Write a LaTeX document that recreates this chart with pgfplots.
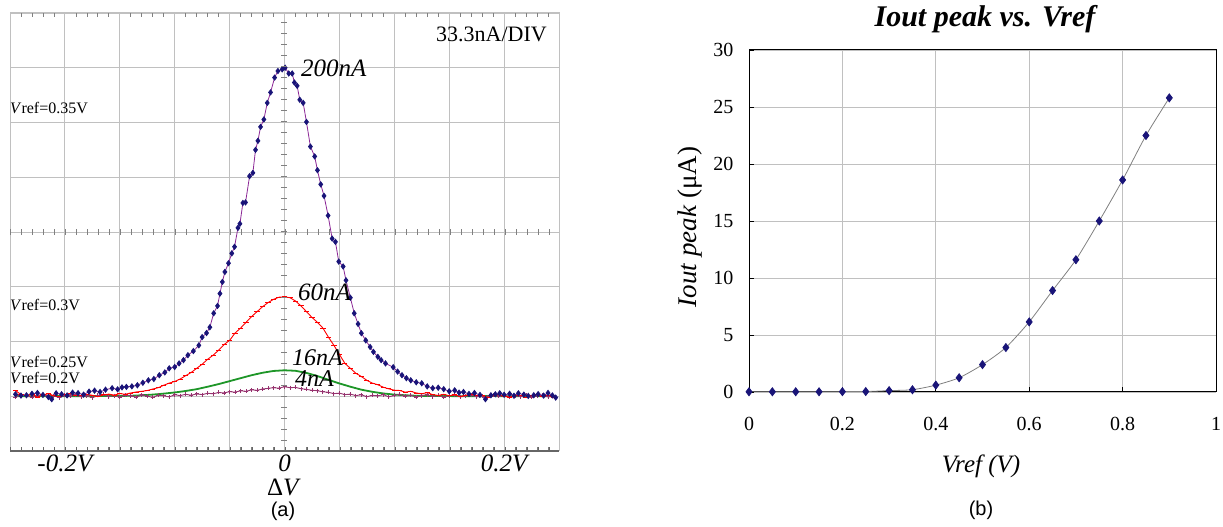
\documentclass[border=0pt]{standalone}
\usepackage{pgfplots}
\pgfplotsset{compat=1.18}
\usepackage{fontspec}
\setmainfont{Liberation Serif}
\newfontfamily\sansf{Liberation Sans}
\definecolor{navyb}{RGB}{25,20,120}
\definecolor{purpl}{RGB}{140,40,150}
\definecolor{plum}{RGB}{150,50,110}
\definecolor{grn}{RGB}{30,150,40}
\definecolor{gridg}{RGB}{192,192,192}
\newcommand{\fs}[1]{\fontsize{#1}{#1}\selectfont}
\begin{document}
\begin{tikzpicture}[x=1pt,y=1pt]
\useasboundingbox (0,0) rectangle (1223,527);
% ---------------- panel (a) ----------------
\begin{axis}[at={(284.5pt,130.75pt)}, anchor=origin, scale only axis,
  width=549pt, height=438pt,
  xmin=-0.25, xmax=0.25, ymin=-33.333, ymax=233.333,
  xtick={-0.25,-0.2,-0.15,-0.1,-0.05,0,0.05,0.1,0.15,0.2,0.25},
  xticklabels={,{-0.2V},,,,0,,,,{0.2V},},
  ytick={-33.333,0,33.333,66.667,100,133.333,166.667,200,233.333},
  yticklabels={},
  grid=major, major grid style={gridg, line width=0.9pt},
  minor x tick num=4, minor y tick num=4,
  tick style={gray, line width=0.7pt}, major tick length=0pt, minor tick length=4pt,
  axis line style={gridg, line width=1pt},
  xticklabel style={font=\fs{25}\itshape},
]
\addplot[grn, line width=1.8pt] coordinates {
(-0.245,0.1) (-0.23,0.0) (-0.21,0.1) (-0.19,0.0) (-0.17,0.1) (-0.15,0.15)
(-0.14,0.3) (-0.13,0.6) (-0.12,1.0) (-0.11,1.6) (-0.10,2.3) (-0.09,3.2)
(-0.08,4.3) (-0.07,5.8) (-0.06,7.4) (-0.05,9.2) (-0.04,11.0) (-0.03,12.8)
(-0.02,14.3) (-0.01,15.4) (0,15.8) (0.01,15.5) (0.02,14.2) (0.03,12.3)
(0.04,10.0) (0.05,7.8) (0.06,5.8) (0.07,4.0) (0.08,2.7) (0.09,1.7)
(0.10,1.0) (0.11,0.6) (0.12,0.3) (0.13,0.2) (0.15,0.1) (0.17,0.0)
(0.19,0.1) (0.21,0.0) (0.23,0.1) (0.245,0.0)};
\addplot[plum, line width=0.9pt, mark=+, mark size=2pt] coordinates {
(-0.245,-0.5) (-0.24,0.8) (-0.235,0.3) (-0.23,-0.6) (-0.225,0.5) (-0.22,1.0)
(-0.215,-0.2) (-0.21,0.4) (-0.205,-0.8) (-0.2,0.6) (-0.195,0.0) (-0.19,0.9)
(-0.185,-0.4) (-0.18,0.3) (-0.175,-0.9) (-0.17,0.5) (-0.165,1.1) (-0.16,-0.3)
(-0.155,0.4) (-0.15,-0.6) (-0.145,0.7) (-0.14,0.2) (-0.135,-0.5) (-0.13,0.8)
(-0.125,0.1) (-0.12,-0.7) (-0.115,0.6) (-0.11,0.3) (-0.105,-0.4) (-0.1,0.9)
(-0.095,0.4) (-0.09,1.2) (-0.085,0.6) (-0.08,1.4) (-0.075,1.0) (-0.07,1.8)
(-0.065,1.5) (-0.06,2.3) (-0.055,2.0) (-0.05,2.8) (-0.045,2.5) (-0.04,3.3)
(-0.035,3.0) (-0.03,3.9) (-0.025,3.6) (-0.02,4.4) (-0.015,4.8) (-0.01,5.2)
(-0.005,4.9) (0,5.8) (0.005,5.2) (0.01,5.4) (0.015,4.6) (0.02,4.2)
(0.025,3.6) (0.03,3.4) (0.035,2.7) (0.04,2.4) (0.045,1.6) (0.05,1.9)
(0.055,1.0) (0.06,1.3) (0.065,0.4) (0.07,0.9) (0.075,-0.3) (0.08,0.6)
(0.085,0.2) (0.09,1.0) (0.095,-0.4) (0.1,0.5) (0.105,1.2) (0.11,0.0)
(0.115,0.7) (0.12,-0.5) (0.125,0.4) (0.13,0.9) (0.135,-0.2) (0.14,0.5)
(0.145,-0.6) (0.15,0.3) (0.155,0.8) (0.16,-0.4) (0.165,0.2) (0.17,0.7)
(0.175,-0.3) (0.18,0.4) (0.185,-0.7) (0.19,0.5) (0.195,0.1) (0.2,0.8)
(0.205,-0.5) (0.21,0.3) (0.215,-0.2) (0.22,0.6) (0.225,-0.6) (0.23,0.2)
(0.235,0.7) (0.24,-0.4) (0.245,0.3)};
\addplot[red, line width=0.9pt, mark=-, mark size=2.6pt] coordinates {
(-0.245,3.5) (-0.24,1.0) (-0.235,0.2) (-0.23,1.2) (-0.225,-0.5) (-0.22,0.8)
(-0.215,1.5) (-0.21,0.3) (-0.205,-0.4) (-0.2,0.9) (-0.195,1.4) (-0.19,0.5)
(-0.185,0.2) (-0.18,1.1) (-0.175,0.6) (-0.17,-0.3) (-0.165,0.8) (-0.16,1.3)
(-0.155,0.7) (-0.15,1.6) (-0.145,1.2) (-0.14,2.0) (-0.135,2.6) (-0.13,3.0)
(-0.125,3.5) (-0.12,4.4) (-0.115,5.2) (-0.11,6.7) (-0.105,8.0) (-0.1,9.0)
(-0.095,10.5) (-0.09,12.5) (-0.085,14.5) (-0.08,17.0) (-0.075,19.5) (-0.07,22.5)
(-0.065,25.0) (-0.06,28.0) (-0.055,31.5) (-0.05,34.0) (-0.045,38.5) (-0.04,41.5)
(-0.035,45.0) (-0.03,48.5) (-0.025,51.5) (-0.02,54.5) (-0.015,57.0) (-0.01,59.0)
(-0.005,60.3) (0,60.5) (0.005,60.0) (0.01,58.0) (0.015,55.0) (0.02,51.5)
(0.025,48.0) (0.03,45.0) (0.035,41.5) (0.04,36.0) (0.045,31.0) (0.05,25.5)
(0.055,20.0) (0.06,17.0) (0.065,14.0) (0.07,12.0) (0.075,9.7) (0.08,8.0)
(0.085,7.0) (0.09,5.5) (0.095,4.5) (0.1,3.7) (0.105,3.5) (0.11,2.5)
(0.115,3.0) (0.12,2.0) (0.125,1.5) (0.13,2.2) (0.135,1.0) (0.14,0.5)
(0.145,1.2) (0.15,0.3) (0.155,0.8) (0.16,-0.2) (0.165,0.6) (0.17,1.0)
(0.175,0.2) (0.18,0.5) (0.185,-0.6) (0.19,0.4) (0.195,0.9) (0.2,0.1)
(0.205,-0.5) (0.21,0.6) (0.215,0.2) (0.22,-0.8) (0.225,0.4) (0.23,1.0)
(0.235,-0.3) (0.24,0.6) (0.245,-1.0)};
\addplot[purpl, line width=0.8pt, mark=diamond*, mark size=2.6pt,
  mark options={navyb, fill=navyb}] coordinates {
(-0.245,1.2) (-0.24,0.4) (-0.235,0.6) (-0.23,1.5) (-0.225,2.0) (-0.22,0.8)
(-0.215,-0.5) (-0.212,-1.8) (-0.208,1.8) (-0.203,1.2) (-0.198,0.5) (-0.193,2.2)
(-0.188,1.9) (-0.183,1.0) (-0.178,2.8) (-0.173,3.4) (-0.168,2.6) (-0.163,4.0)
(-0.157,4.9) (-0.152,4.2) (-0.148,5.4) (-0.144,5.7) (-0.139,6.0) (-0.134,6.7)
(-0.129,8.2) (-0.124,9.7) (-0.119,10.5) (-0.114,12.8) (-0.109,14.5) (-0.105,17.0)
(-0.100,17.8) (-0.096,20.0) (-0.092,22.0) (-0.088,25.0) (-0.083,27.5) (-0.078,31.0)
(-0.075,36.0) (-0.071,38.5) (-0.068,42.0) (-0.0645,50.5) (-0.061,55.0) (-0.0588,62.5)
(-0.0566,69.6) (-0.0543,75.7) (-0.051,81) (-0.048,87) (-0.0455,91) (-0.0424,102.5)
(-0.0406,105) (-0.0379,117.7) (-0.0355,118) (-0.0318,134) (-0.0288,136) (-0.0264,150)
(-0.0242,155.5) (-0.0218,164) (-0.0188,168.5) (-0.0157,178.6) (-0.0127,185) (-0.009,194)
(-0.006,198) (-0.0021,199) (0.0006,200) (0.0039,196.5) (0.007,196.5) (0.009,191)
(0.0115,189) (0.0139,180.5) (0.017,178.6) (0.020,167) (0.0236,152) (0.0275,146)
(0.030,137.6) (0.033,129) (0.036,122) (0.0397,110) (0.0434,96) (0.0464,94)
(0.0494,82) (0.0534,79) (0.056,70.6) (0.060,60) (0.0635,50.5) (0.067,44)
(0.070,38.4) (0.074,34) (0.078,30) (0.081,27) (0.085,24) (0.088,22)
(0.092,20) (0.099,17.7) (0.103,15) (0.107,12.8) (0.111,11) (0.115,9.7)
(0.12,8.5) (0.125,7.9) (0.13,6) (0.135,4.9) (0.14,5.2) (0.145,4.3)
(0.15,3.0) (0.155,3.6) (0.159,2.2) (0.163,2.6) (0.168,1.4) (0.173,2.0)
(0.178,0.8) (0.183,-1.8) (0.188,0.6) (0.192,1.2) (0.196,1.8) (0.2,0.9)
(0.205,1.5) (0.209,0.3) (0.213,1.8) (0.218,1.0) (0.222,0.2) (0.227,0.6)
(0.231,1.3) (0.236,0.4) (0.24,2.0) (0.244,0.5) (0.247,-0.8)};
\end{axis}
% centre cross ticks and heavy bottom edge of the screen
\foreach \i in {0,...,49} {\draw[gray, line width=0.6pt] ({10+11*\i},292) -- ({10+11*\i},298);}
\foreach \i in {0,...,39} {\draw[gray, line width=0.6pt] (281,{76+11*\i}) -- (287,{76+11*\i});}
\draw[line width=2.6pt, black!60] (10,76) -- (559,76);
\foreach \i in {0,...,49} {\draw[black!60, line width=0.8pt] ({10+11*\i},76) -- ({10+11*\i},80);}
% texts of panel (a)
\node[anchor=east, inner sep=0, font=\fs{22}] at (547,493) {33.3nA/DIV};
\node[anchor=west, inner sep=0, font=\fs{25}\itshape] at (301,459) {200nA};
\node[anchor=west, inner sep=0, font=\fs{25}\itshape] at (298,235) {60nA};
\node[anchor=west, inner sep=0, font=\fs{24}\itshape] at (292,169) {16nA};
\node[anchor=west, inner sep=0, font=\fs{24}\itshape] at (295,148) {4nA};
\node[anchor=west, inner sep=0, font=\fs{16}] at (10,419) {\textit{V}ref=0.35V};
\node[anchor=west, inner sep=0, font=\fs{16}] at (10,222) {\textit{V}ref=0.3V};
\node[anchor=west, inner sep=0, font=\fs{16}] at (10,165) {\textit{V}ref=0.25V};
\node[anchor=west, inner sep=0, font=\fs{16}] at (10,149) {\textit{V}ref=0.2V};
\node[inner sep=0, font=\fs{25}] at (284,40) {Δ\textit{V}};
\node[inner sep=0, font=\sansf\fs{20}] at (283,16) {(a)};
% ---------------- panel (b) ----------------
\begin{axis}[at={(749pt,135pt)}, anchor=origin, scale only axis,
  width=467pt, height=342pt,
  xmin=0, xmax=1, ymin=0, ymax=30,
  xtick={0,0.2,0.4,0.6,0.8,1}, ytick={0,5,10,15,20,25,30},
  grid=major, major grid style={gridg, line width=0.7pt},
  axis line style={black, line width=1pt},
  tick style={black, line width=0.8pt}, major tick length=5pt,
  tick pos=left,
  /pgf/number format/assume math mode=true,
  ticklabel style={font=\fs{20}},
  xticklabel style={yshift=-22pt},
  yticklabel style={xshift=-12pt},
]
\addplot[gray, line width=0.8pt, smooth, tension=0.4, mark=diamond*, mark size=4pt,
  mark options={navyb, fill=navyb}] coordinates {
(0,0.02) (0.05,0.02) (0.1,0.02) (0.15,0.02) (0.2,0.03) (0.25,0.04)
(0.3,0.12) (0.35,0.2) (0.4,0.6) (0.45,1.25) (0.5,2.4) (0.55,3.9)
(0.6,6.15) (0.65,8.9) (0.7,11.6) (0.75,15.0) (0.8,18.6) (0.85,22.5) (0.9,25.8)};
\end{axis}
\node[inner sep=0, font=\fs{30}\bfseries\itshape] at (985,508) {Iout peak vs. Vref};
\node[inner sep=0, rotate=90, font=\fs{27}] at (690,300) {\textit{Iout peak} (μA)};
\node[inner sep=0, font=\fs{25}\itshape] at (981,61) {Vref (V)};
\node[inner sep=0, font=\sansf\fs{20}] at (981,17) {(b)};
\end{tikzpicture}
\end{document}
